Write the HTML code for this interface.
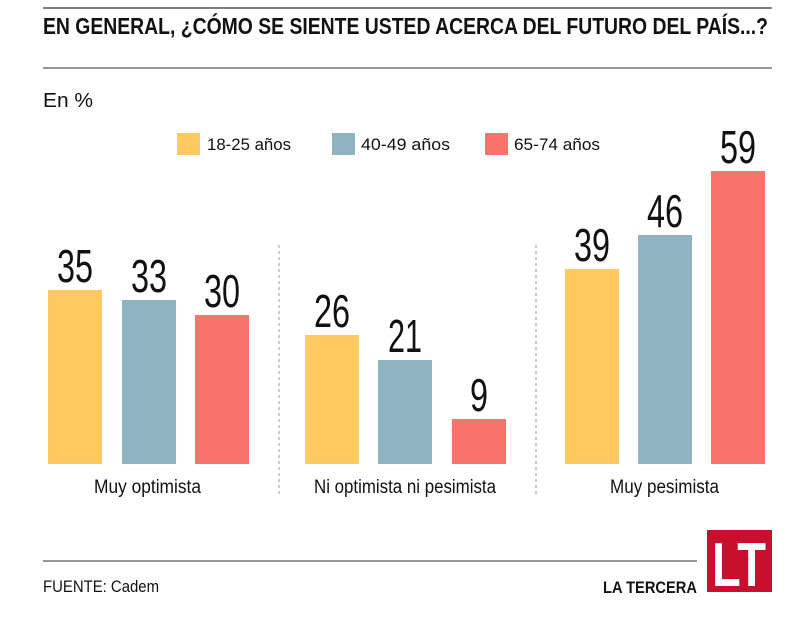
<!DOCTYPE html>
<html><head><meta charset="utf-8"><style>
html,body{margin:0;padding:0;background:#fff;}
svg{display:block;}
text{font-family:"Liberation Sans",sans-serif;fill:#111;}
.n{font-size:46px;}
.c{font-size:17px;}
.k{font-size:19px;}
</style></head><body>
<svg width="800" height="622" viewBox="0 0 800 622">
<line x1="43" y1="8" x2="772" y2="8" stroke="#555" stroke-width="1.5"/>
<text x="43" y="34" font-size="23" font-weight="bold" textLength="725" lengthAdjust="spacingAndGlyphs">EN GENERAL, ¿CÓMO SE SIENTE USTED ACERCA DEL FUTURO DEL PAÍS...?</text>
<line x1="43" y1="68" x2="772" y2="68" stroke="#777" stroke-width="1.5"/>
<text x="43" y="107" font-size="20" textLength="50" lengthAdjust="spacingAndGlyphs">En %</text>
<rect x="177" y="133" width="23" height="22" fill="#fdc960"/>
<text x="207" y="150" class="c" textLength="84" lengthAdjust="spacingAndGlyphs">18-25 años</text>
<rect x="332" y="133" width="23" height="22" fill="#8fb3c0"/>
<text x="361" y="150" class="c" textLength="89" lengthAdjust="spacingAndGlyphs">40-49 años</text>
<rect x="485" y="133" width="23" height="22" fill="#f87369"/>
<text x="514" y="150" class="c" textLength="86" lengthAdjust="spacingAndGlyphs">65-74 años</text>

<line x1="279" y1="245" x2="279" y2="497" stroke="#999" stroke-dasharray="3,3"/>
<line x1="536" y1="245" x2="536" y2="497" stroke="#999" stroke-dasharray="3,3"/>

<rect x="48" y="290" width="54" height="174" fill="#fdc960"/>
<rect x="122" y="300" width="54" height="164" fill="#8fb3c0"/>
<rect x="195" y="315" width="54" height="149" fill="#f87369"/>
<rect x="305" y="335" width="54" height="129" fill="#fdc960"/>
<rect x="378" y="360" width="54" height="104" fill="#8fb3c0"/>
<rect x="452" y="419" width="54" height="45" fill="#f87369"/>
<rect x="565" y="269" width="54" height="195" fill="#fdc960"/>
<rect x="638" y="235" width="54" height="229" fill="#8fb3c0"/>
<rect x="711" y="171" width="54" height="293" fill="#f87369"/>

<g text-anchor="middle">
<text x="75" y="282" class="n" textLength="36" lengthAdjust="spacingAndGlyphs">35</text>
<text x="149" y="292" class="n" textLength="36" lengthAdjust="spacingAndGlyphs">33</text>
<text x="222" y="307" class="n" textLength="36" lengthAdjust="spacingAndGlyphs">30</text>
<text x="332" y="327" class="n" textLength="36" lengthAdjust="spacingAndGlyphs">26</text>
<text x="405" y="352" class="n" textLength="34" lengthAdjust="spacingAndGlyphs">21</text>
<text x="479" y="411" class="n" textLength="18" lengthAdjust="spacingAndGlyphs">9</text>
<text x="592" y="261" class="n" textLength="36" lengthAdjust="spacingAndGlyphs">39</text>
<text x="665" y="227" class="n" textLength="36" lengthAdjust="spacingAndGlyphs">46</text>
<text x="738" y="163" class="n" textLength="36" lengthAdjust="spacingAndGlyphs">59</text>
</g>
<text x="94" y="493" class="k" textLength="107" lengthAdjust="spacingAndGlyphs">Muy optimista</text>
<text x="314" y="493" class="k" textLength="182" lengthAdjust="spacingAndGlyphs">Ni optimista ni pesimista</text>
<text x="610" y="493" class="k" textLength="109" lengthAdjust="spacingAndGlyphs">Muy pesimista</text>

<line x1="43" y1="561" x2="697" y2="561" stroke="#777" stroke-width="1.5"/>
<text x="43" y="592" font-size="17" textLength="116" lengthAdjust="spacingAndGlyphs">FUENTE: Cadem</text>
<text x="603" y="593" font-size="17" font-weight="bold" textLength="94" lengthAdjust="spacingAndGlyphs">LA TERCERA</text>
<rect x="707" y="530" width="65" height="62" fill="#c8102e"/>
<text x="739" y="586" font-size="62" font-weight="bold" text-anchor="middle" style="fill:#fff" textLength="54" lengthAdjust="spacingAndGlyphs">LT</text>
</svg>
</body></html>
